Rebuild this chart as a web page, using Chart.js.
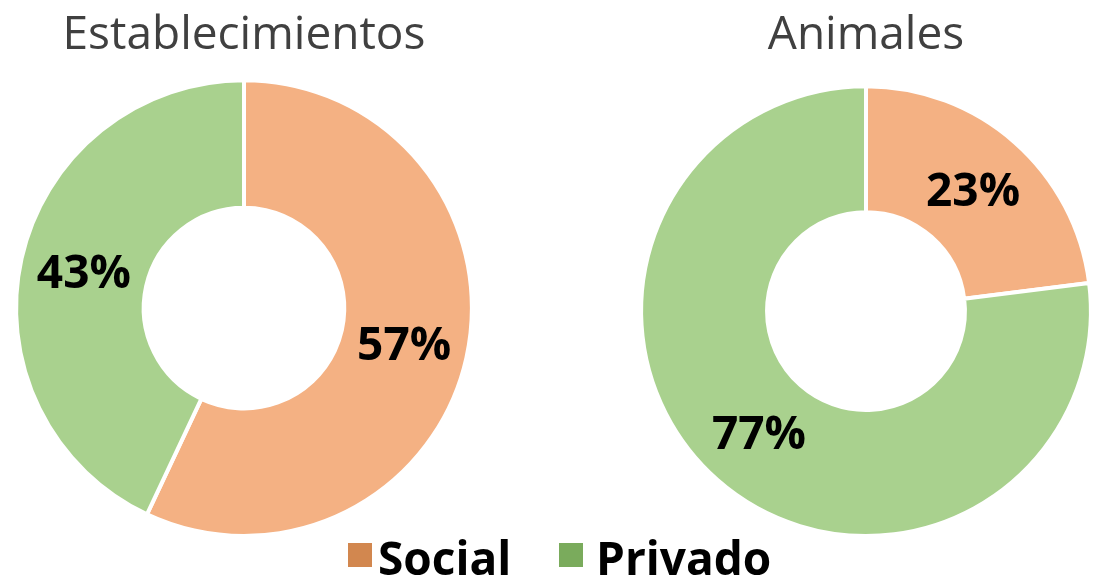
<!DOCTYPE html>
<html>
<head>
<meta charset="utf-8">
<script src="https://cdn.jsdelivr.net/npm/chart.js@4/dist/chart.umd.min.js"></script>
<style>
  body { margin:0; background:#fff; width:1102px; height:584px; overflow:hidden; position:relative; font-family:"Open Sans", sans-serif; }
  #wrapLeft { position:absolute; left:0; top:0; width:488px; height:584px; }
  #wrapRight { position:absolute; left:630px; top:0; width:472px; height:584px; }
  #legend { position:absolute; left:0; top:528px; width:1102px; height:56px; }
  .item { position:absolute; top:1px; height:56px; line-height:56px; font-weight:700; font-size:46px; color:#000; }
  .box { position:absolute; width:24px; height:24px; top:15px; }
</style>
</head>
<body>
<div id="wrapLeft"><canvas id="chartLeft"></canvas></div>
<div id="wrapRight"><canvas id="chartRight"></canvas></div>
<div id="legend"></div>
<script>
var categories = ["Social", "Privado"];
var establecimientos = [57, 43];
var animales = [23, 77];
var titles = ["Establecimientos", "Animales"];
var sliceColors = ["#F4B183", "#A9D18E"];
var legendColors = ["#D2874F", "#7AAB5C"];

// draws the percentage in the middle of each slice
var pctLabels = {
  id: 'pctLabels',
  afterDatasetsDraw: function(chart) {
    var ctx = chart.ctx;
    var meta = chart.getDatasetMeta(0);
    var data = chart.data.datasets[0].data;
    ctx.save();
    ctx.font = "bold 46px 'Open Sans'";
    ctx.fillStyle = "#000";
    ctx.textAlign = "center";
    ctx.textBaseline = "middle";
    meta.data.forEach(function(arc, i) {
      var p = arc.tooltipPosition();
      ctx.fillText(data[i] + "%", p.x, p.y + 3);
    });
    ctx.restore();
  }
};

function makeDonut(id, title, values, titleBottom, padBottom) {
  return new Chart(document.getElementById(id), {
    type: 'doughnut',
    data: {
      labels: categories,
      datasets: [{
        data: values,
        backgroundColor: sliceColors,
        borderColor: "#fff",
        borderWidth: 4
      }]
    },
    options: {
      responsive: true,
      maintainAspectRatio: false,
      animation: false,
      cutout: '44%',
      layout: { padding: { bottom: padBottom } },
      plugins: {
        legend: { display: false },
        tooltip: { enabled: false },
        title: {
          display: true,
          text: title,
          color: "#404040",
          font: { family: "'Open Sans'", size: 46, weight: 'normal' },
          padding: { top: 8, bottom: titleBottom }
        }
      }
    },
    plugins: [pctLabels]
  });
}

makeDonut('chartLeft', titles[0], establecimientos, 15, 46);
makeDonut('chartRight', titles[1], animales, 21, 46);

// shared legend under both charts
var legendPos = [[348, 378], [559, 596]];
var legendDiv = document.getElementById('legend');
for (var i = 0; i < categories.length; i++) {
  var box = document.createElement('div');
  box.className = 'box';
  box.style.left = legendPos[i][0] + 'px';
  box.style.background = legendColors[i];
  legendDiv.appendChild(box);
  var txt = document.createElement('div');
  txt.className = 'item';
  txt.style.left = legendPos[i][1] + 'px';
  txt.textContent = categories[i];
  legendDiv.appendChild(txt);
}
</script>
</body>
</html>
